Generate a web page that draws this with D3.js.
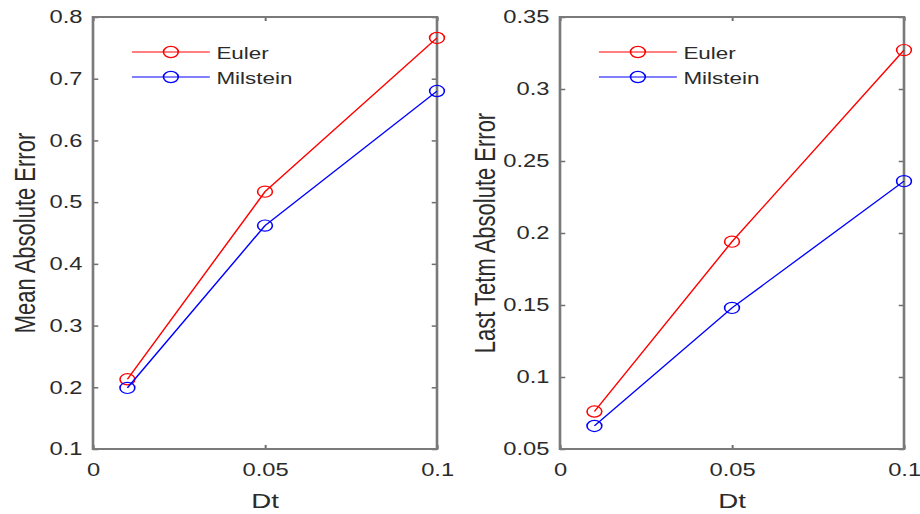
<!DOCTYPE html>
<html>
<head>
<meta charset="utf-8">
<script src="https://cdn.jsdelivr.net/npm/d3@7"></script>
<style>
  html, body { margin: 0; padding: 0; background: #fff; }
  svg { display: block; }
  text { font-family: "Liberation Sans", Arial, Helvetica, sans-serif; fill: #2b2b2b; }
</style>
</head>
<body>
<div id="chart"></div>
<script>
// values
const dt = [0.01, 0.05, 0.1];
const meanEuler = [0.213, 0.517, 0.766];
const meanMilstein = [0.199, 0.462, 0.680];
const lastEuler = [0.076, 0.194, 0.327];
const lastMilstein = [0.066, 0.148, 0.236];

const xTicks = [0, 0.05, 0.1];
const xTickLabels = ["0", "0.05", "0.1"];
const meanTicks = [0.1, 0.2, 0.3, 0.4, 0.5, 0.6, 0.7, 0.8];
const meanTickLabels = ["0.1", "0.2", "0.3", "0.4", "0.5", "0.6", "0.7", "0.8"];
const lastTicks = [0.05, 0.1, 0.15, 0.2, 0.25, 0.3, 0.35];
const lastTickLabels = ["0.05", "0.1", "0.15", "0.2", "0.25", "0.3", "0.35"];
const seriesNames = ["Euler", "Milstein"];
const colors = ["#ff0000", "#0000ff"];

// the original picture is stretched sideways, so draw in a narrower box and let the svg widen it
const stretch = 1.32;
const width = 920, height = 514;
const vw = width / stretch;

const svg = d3.select("#chart")
  .append("svg")
    .attr("width", width)
    .attr("height", height)
    .attr("viewBox", [0, 0, vw, height])
    .attr("preserveAspectRatio", "none");

const plotTop = 17, plotBottom = 449;

function panel(opts) {
  const x = d3.scaleLinear().domain([0, 0.1]).range([opts.x0, opts.x1]);
  const y = d3.scaleLinear().domain(opts.yDomain).range([plotBottom, plotTop]);
  const g = svg.append("g");

  const fmtX = d => xTickLabels[xTicks.indexOf(d)];
  const fmtY = d => opts.yLabels[opts.yTicks.indexOf(d)];

  g.append("g")
    .attr("transform", `translate(0,${plotBottom})`)
    .call(d3.axisBottom(x).tickValues(xTicks).tickFormat(fmtX).tickSize(-4).tickPadding(14))
    .call(a => a.selectAll("text").attr("font-size", 18));
  g.append("g")
    .attr("transform", `translate(0,${plotTop})`)
    .call(d3.axisTop(x).tickValues(xTicks).tickFormat("").tickSize(-4));
  g.append("g")
    .attr("transform", `translate(${opts.x0},0)`)
    .call(d3.axisLeft(y).tickValues(opts.yTicks).tickFormat(fmtY).tickSize(-4).tickPadding(8))
    .call(a => a.selectAll("text").attr("font-size", 18));
  g.append("g")
    .attr("transform", `translate(${opts.x1},0)`)
    .call(d3.axisRight(y).tickValues(opts.yTicks).tickFormat("").tickSize(-4));

  g.selectAll(".domain").remove();
  g.selectAll(".tick line").attr("stroke", "#6e6e6e").attr("stroke-width", 1.5);
  g.selectAll("g text").attr("fill", "#2b2b2b");
  g.selectAll("g[font-family]").attr("font-family", null);

  g.append("rect")
    .attr("x", opts.x0).attr("y", plotTop)
    .attr("width", opts.x1 - opts.x0).attr("height", plotBottom - plotTop)
    .attr("fill", "none").attr("stroke", "#7a7a7a").attr("stroke-width", 2);

  const line = d3.line().x((d, i) => x(dt[i])).y(d => y(d));

  opts.series.forEach((vals, k) => {
    g.append("path")
      .datum(vals)
      .attr("d", line)
      .attr("fill", "none")
      .attr("stroke", colors[k])
      .attr("stroke-width", 1.2);
    g.selectAll(null)
      .data(vals)
      .join("circle")
        .attr("cx", (d, i) => x(dt[i]))
        .attr("cy", d => y(d))
        .attr("r", 5.6)
        .attr("fill", "none")
        .attr("stroke", colors[k])
        .attr("stroke-width", 1.2);
  });

  // legend
  const lx0 = opts.x0 + 29.5, lx1 = opts.x0 + 88.5;
  seriesNames.forEach((name, k) => {
    const ly = 52 + k * 25;
    g.append("line")
      .attr("x1", lx0).attr("x2", lx1).attr("y1", ly).attr("y2", ly)
      .attr("stroke", colors[k]).attr("stroke-width", 1.2);
    g.append("circle")
      .attr("cx", (lx0 + lx1) / 2).attr("cy", ly).attr("r", 5.6)
      .attr("fill", "none").attr("stroke", colors[k]).attr("stroke-width", 1.2);
    g.append("text")
      .attr("x", opts.x0 + 93.5).attr("y", ly + 7)
      .attr("font-size", 17)
      .text(name);
  });

  g.append("text")
    .attr("x", (opts.x0 + opts.x1) / 2)
    .attr("y", 508)
    .attr("text-anchor", "middle")
    .attr("font-size", 21)
    .text("Dt");

  g.append("text")
    .attr("transform", `translate(${opts.labelX},${(plotTop + plotBottom) / 2}) rotate(-90)`)
    .attr("text-anchor", "middle")
    .attr("font-size", 22)
    .text(opts.yTitle);
}

panel({
  x0: 93 / stretch, x1: 437 / stretch,
  yDomain: [0.1, 0.8], yTicks: meanTicks, yLabels: meanTickLabels,
  series: [meanEuler, meanMilstein],
  yTitle: "Mean Absolute Error",
  labelX: 35 / stretch
});

panel({
  x0: 560 / stretch, x1: 904 / stretch,
  yDomain: [0.05, 0.35], yTicks: lastTicks, yLabels: lastTickLabels,
  series: [lastEuler, lastMilstein],
  yTitle: "Last Tetm Absolute Error",
  labelX: 495 / stretch
});
</script>
</body>
</html>
